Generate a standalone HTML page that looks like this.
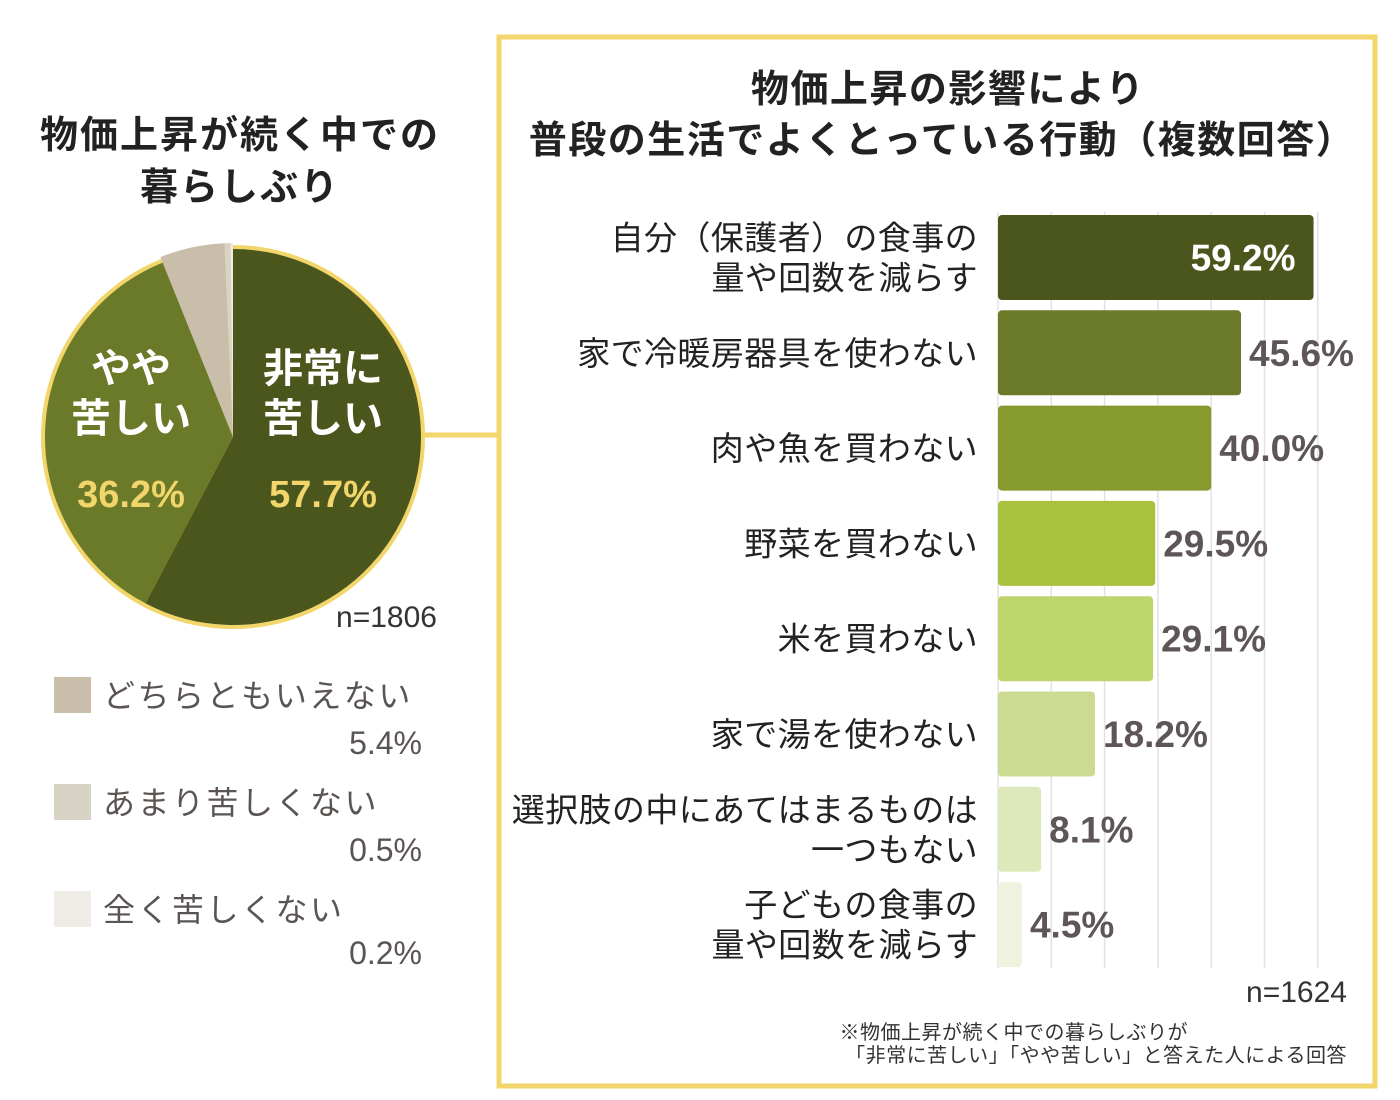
<!DOCTYPE html>
<html><head><meta charset="utf-8"><style>
html,body{margin:0;padding:0;background:#fff;width:1400px;height:1100px;overflow:hidden}
svg{display:block;font-family:"Liberation Sans","Noto Sans CJK JP",sans-serif}
</style></head><body>
<svg id="chart" width="1400" height="1100" viewBox="0 0 1400 1100">
<rect x="0" y="0" width="1400" height="1100" fill="#fff"/>
<text x="240" y="148" text-anchor="middle" font-size="38" letter-spacing="2" font-weight="bold" fill="#222">物価上昇が続く中での</text>
<text x="240" y="200" text-anchor="middle" font-size="38" letter-spacing="2" font-weight="bold" fill="#222">暮らしぶり</text>
<g id="pie"></g>
<line x1="424" y1="435" x2="498" y2="435" stroke="#f2d56b" stroke-width="5"/>
<text x="437" y="627" text-anchor="end" font-size="30" fill="#333">n=1806</text>
<g id="legend"></g>
<rect x="499" y="37" width="876" height="1049" fill="none" stroke="#f2d56b" stroke-width="5"/>
<text x="948" y="102" text-anchor="middle" font-size="38" letter-spacing="1.5" font-weight="bold" fill="#222">物価上昇の影響により</text>
<text x="942" y="153" text-anchor="middle" font-size="38" letter-spacing="1.5" font-weight="bold" fill="#222">普段の生活でよくとっている行動（複数回答）</text>
<g id="grid"></g>
<g id="bars"></g>
<text x="1347" y="1002" text-anchor="end" font-size="30" fill="#333">n=1624</text>
<text x="1188" y="1039" text-anchor="end" font-size="20" letter-spacing="0.5" fill="#333">※物価上昇が続く中での暮らしぶりが</text>
<text x="1347" y="1062" text-anchor="end" font-size="20" letter-spacing="0.5" fill="#333">「非常に苦しい」「やや苦しい」と答えた人による回答</text>
</svg>
<script>
const NS='http://www.w3.org/2000/svg';
function mk(tag,attrs,parent,text){const e=document.createElementNS(NS,tag);for(const k in attrs)e.setAttribute(k,attrs[k]);if(text!==undefined)e.textContent=text;parent.appendChild(e);return e;}

const pieLabels=['非常に苦しい','やや苦しい','どちらともいえない','あまり苦しくない','全く苦しくない'];
const pieValues=[57.7,36.2,5.4,0.5,0.2];
const pieColors=['#4a561c','#6a7a28','#c9bea9','#d9d3c6','#efebe5'];

const barCats=[['自分（保護者）の食事の','量や回数を減らす'],['家で冷暖房器具を使わない'],['肉や魚を買わない'],['野菜を買わない'],['米を買わない'],['家で湯を使わない'],['選択肢の中にあてはまるものは','一つもない'],['子どもの食事の','量や回数を減らす']];
const barValues=[59.2,45.6,40.0,29.5,29.1,18.2,8.1,4.5];
const barColors=['#4a561c','#6a7a28','#879a30','#a8c23f','#bed46c','#cbdc92','#dde8bb','#eef3df'];
const gridTicks=[0,10,20,30,40,50,60];

const pie=document.getElementById('pie');
const cx=233,cy=437,R=188;
mk('circle',{cx:cx,cy:cy,r:R+4,fill:'#f2d56b'},pie);
const total=pieValues.reduce((a,b)=>a+b,0);
let acc=0;
pieValues.forEach((v,i)=>{
  const r=i>=2?R+6:R;
  const a0=acc/total*2*Math.PI, a1=(acc+v)/total*2*Math.PI; acc+=v;
  const x0=cx+r*Math.sin(a0),y0=cy-r*Math.cos(a0),x1=cx+r*Math.sin(a1),y1=cy-r*Math.cos(a1);
  const large=(a1-a0)>Math.PI?1:0;
  const p=mk('path',{d:`M${cx},${cy} L${x0},${y0} A${r},${r} 0 ${large} 1 ${x1},${y1} Z`,fill:pieColors[i]},pie);
  
  
});
const pl=[{x:323,l:['非常に','苦しい'],v:0},{x:131,l:['やや','苦しい'],v:1}];
pl.forEach(o=>{
  const t1=mk('text',{x:o.x,y:382,'text-anchor':'middle','font-size':40,'font-weight':'bold',fill:'#fff'},pie,o.l[0]);
  
  
  const t2=mk('text',{x:o.x,y:432,'text-anchor':'middle','font-size':40,'font-weight':'bold',fill:'#fff'},pie,o.l[1]);
  
  
  const t3=mk('text',{x:o.x,y:507,'text-anchor':'middle','font-size':38,'font-weight':'bold',fill:'#f2d56b'},pie,pieValues[o.v].toFixed(1)+'%');
  
  
});

const lg=document.getElementById('legend');
[2,3,4].forEach((idx,j)=>{
  const y=677+j*107;
  const r=mk('rect',{x:54,y:y,width:37,height:36,fill:pieColors[idx]},lg);
  
  
  const t=mk('text',{x:103,y:y+30,'font-size':32,'letter-spacing':2.5,fill:'#5a5452'},lg,pieLabels[idx]);
  
  
  const v=mk('text',{x:422,y:y+(j==2?73:77),'text-anchor':'end','font-size':32,fill:'#5a5452'},lg,pieValues[idx].toFixed(1)+'%');
  
  
});

const x0=998,scale=5.33,barTop=215,step=95.3,bh=85;
const xs=v=>x0+v*scale;
const grid=document.getElementById('grid');
gridTicks.forEach(t=>{
  const l=mk('line',{x1:xs(t),y1:212,x2:xs(t),y2:968,stroke:'#e2e2e2','stroke-width':1.5},grid);
  
  
});
const bars=document.getElementById('bars');
barValues.forEach((v,i)=>{
  const y=barTop+i*step;
  const b=mk('rect',{x:x0,y:y,width:xs(v)-x0,height:bh,rx:4,fill:barColors[i]},bars);
  
  
  const cy2=y+bh/2;
  const lines=barCats[i];
  lines.forEach((s,k)=>{
    const yy=lines.length==1?cy2+12:cy2-8+k*40;
    const t=mk('text',{x:978,y:yy,'text-anchor':'end','font-size':33,'letter-spacing':0.4,fill:'#222'},bars,s);
    
    
  });
  const inside=i===0;
  const vt=mk('text',{x:inside?xs(v)-18:xs(v)+8,y:cy2+13,'text-anchor':inside?'end':'start','font-size':37,'font-weight':'bold',fill:inside?'#fff':'#5e5656'},bars,v.toFixed(1)+'%');
  
  
});
</script>
</body></html>
